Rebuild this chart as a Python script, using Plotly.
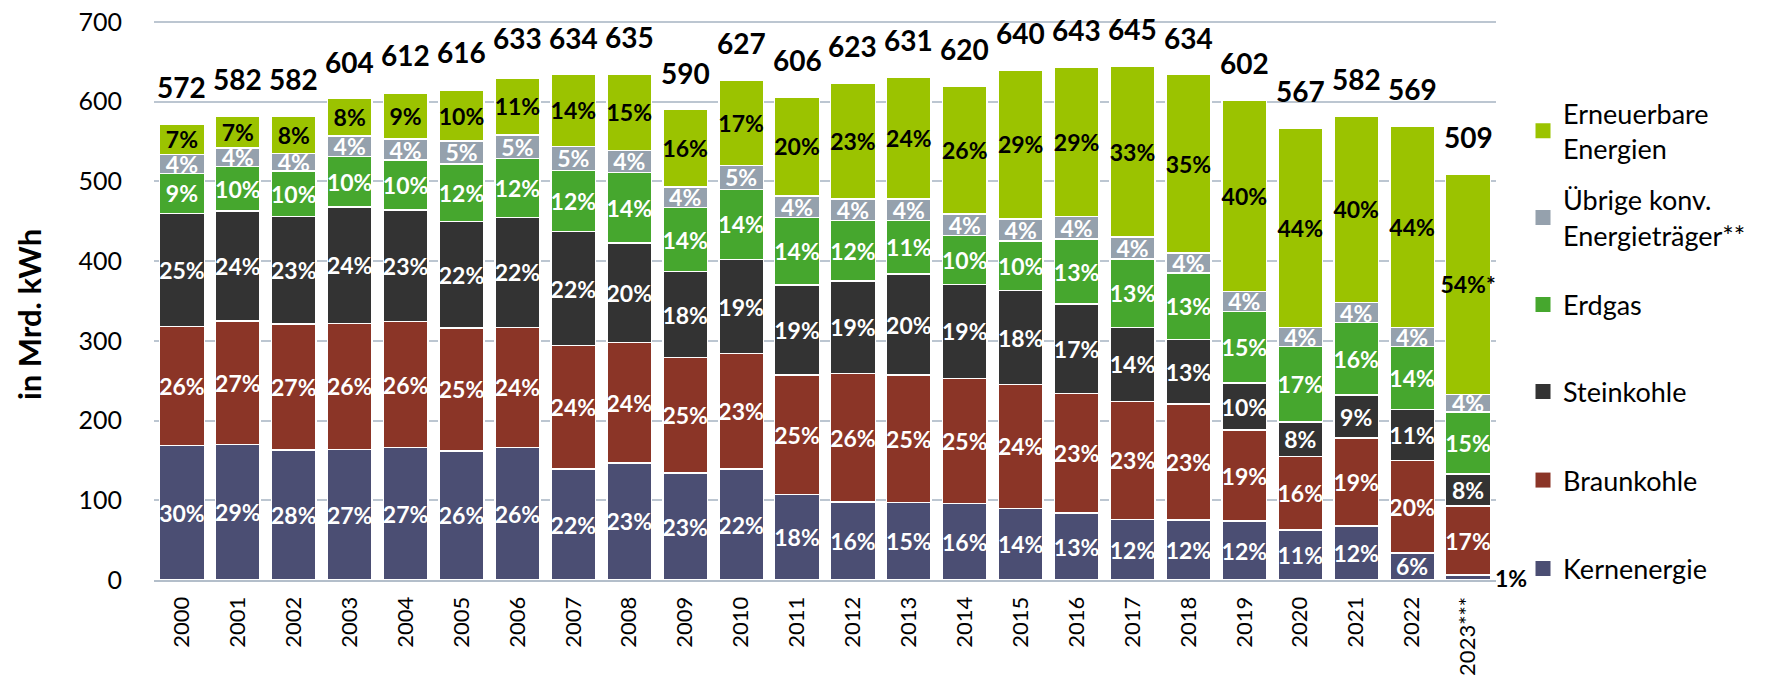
import plotly.graph_objects as go

years = ["2000", "2001", "2002", "2003", "2004", "2005", "2006", "2007", "2008", "2009",
         "2010", "2011", "2012", "2013", "2014", "2015", "2016", "2017", "2018", "2019",
         "2020", "2021", "2022", "2023***"]

kern = [169, 170, 163, 164, 166, 162, 166, 139, 147, 134, 139, 107, 98, 97, 96, 90, 84, 76, 75, 74, 63, 68, 34, 6]
braun = [149, 155, 158, 158, 158, 154, 151, 155, 151, 145, 145, 150, 161, 160, 157, 155, 150, 148, 146, 114, 92, 110, 116, 87]
stein = [142, 138, 135, 146, 140, 134, 138, 143, 125, 108, 118, 113, 116, 127, 118, 118, 112, 93, 81, 59, 43, 54, 64, 40]
erdgas = [50, 56, 57, 63, 63, 72, 74, 77, 88, 80, 88, 85, 76, 67, 61, 62, 82, 86, 83, 90, 95, 91, 79, 78]
uebrige = [24, 23, 22, 26, 26, 29, 29, 30, 28, 26, 30, 27, 27, 27, 27, 28, 28, 27, 25, 25, 24, 25, 24, 22]
ee = [38, 40, 47, 47, 58, 63, 72, 90, 96, 97, 107, 124, 145, 153, 161, 187, 187, 215, 224, 240, 250, 234, 252, 276]
totals = [572, 582, 582, 604, 612, 616, 633, 634, 635, 590, 627, 606, 623, 631, 620, 640, 643, 645, 634, 602, 567, 582, 569, 509]

kern_pct = ["30%", "29%", "28%", "27%", "27%", "26%", "26%", "22%", "23%", "23%", "22%", "18%", "16%", "15%", "16%", "14%", "13%", "12%", "12%", "12%", "11%", "12%", "6%", ""]
braun_pct = ["26%", "27%", "27%", "26%", "26%", "25%", "24%", "24%", "24%", "25%", "23%", "25%", "26%", "25%", "25%", "24%", "23%", "23%", "23%", "19%", "16%", "19%", "20%", "17%"]
stein_pct = ["25%", "24%", "23%", "24%", "23%", "22%", "22%", "22%", "20%", "18%", "19%", "19%", "19%", "20%", "19%", "18%", "17%", "14%", "13%", "10%", "8%", "9%", "11%", "8%"]
erdgas_pct = ["9%", "10%", "10%", "10%", "10%", "12%", "12%", "12%", "14%", "14%", "14%", "14%", "12%", "11%", "10%", "10%", "13%", "13%", "13%", "15%", "17%", "16%", "14%", "15%"]
uebrige_pct = ["4%", "4%", "4%", "4%", "4%", "5%", "5%", "5%", "4%", "4%", "5%", "4%", "4%", "4%", "4%", "4%", "4%", "4%", "4%", "4%", "4%", "4%", "4%", "4%"]
ee_pct = ["7%", "7%", "8%", "8%", "9%", "10%", "11%", "14%", "15%", "16%", "17%", "20%", "23%", "24%", "26%", "29%", "29%", "33%", "35%", "40%", "44%", "40%", "44%", "54%*"]
kern_outside_label = "1%"

series = [
    ("Kernenergie", kern, kern_pct, "#4B4E73", "white"),
    ("Braunkohle", braun, braun_pct, "#8B3527", "white"),
    ("Steinkohle", stein, stein_pct, "#333333", "white"),
    ("Erdgas", erdgas, erdgas_pct, "#46A72E", "white"),
    ("Übrige konv.<br>Energieträger**", uebrige, uebrige_pct, "#95A1AD", "white"),
    ("Erneuerbare<br>Energien", ee, ee_pct, "#9BC300", "black"),
]

FONT = "Lato"
fig = go.Figure()

for name, vals, labels, color, tcol in series:
    fig.add_trace(go.Bar(
        x=years, y=vals, name=name, showlegend=False,
        marker=dict(color=color, line=dict(color="white", width=1.5)),
        text=labels, textposition="inside", textangle=0,
        insidetextanchor="middle",
        insidetextfont=dict(family=FONT, size=23, color=tcol, weight="bold"),
    ))

# legend entries: one legend per item, placed in figure (container) coordinates
legend_y = {
    "Erneuerbare<br>Energien": 0.8210,
    "Übrige konv.<br>Energieträger**": 0.6950,
    "Erdgas": 0.5683,
    "Steinkohle": 0.4419,
    "Braunkohle": 0.3132,
    "Kernenergie": 0.1846,
}
legend_layout = {}
for i, (name, vals, labels, color, tcol) in enumerate(series):
    key = "legend" if i == 0 else f"legend{i + 1}"
    fig.add_trace(go.Scatter(
        x=[years[0]], y=[None], mode="markers", name=name,
        marker=dict(symbol="square", size=15, color=color),
        legend=key, showlegend=True, hoverinfo="skip",
    ))
    legend_layout[key] = dict(
        xref="container", yref="container",
        x=0.8608, xanchor="left", y=legend_y[name], yanchor="middle",
        font=dict(family=FONT, size=27, color="black"),
        bgcolor="rgba(0,0,0,0)", borderwidth=0, itemwidth=30,
    )

# totals above bars
for i, t in enumerate(totals):
    fig.add_annotation(
        x=i, y=t, text=str(t), showarrow=False, yanchor="bottom", yshift=18,
        font=dict(family=FONT, size=28, color="black", weight="bold"),
    )

# outside label for tiny 2023 nuclear segment
fig.add_annotation(
    x=len(years) - 1, y=kern[-1] / 2, text=kern_outside_label, showarrow=False,
    xanchor="left", yanchor="middle", xshift=25,
    font=dict(family=FONT, size=23, color="black", weight="bold"),
)

# y-axis title
fig.add_annotation(
    xref="paper", yref="paper", x=-0.0935, y=0.474, text="in Mrd. kWh",
    textangle=-90, showarrow=False, xanchor="center", yanchor="middle",
    font=dict(family=FONT, size=31, color="black", weight="bold"),
)

fig.update_layout(
    width=1760, height=688,
    margin=dict(l=146, r=272, t=12, b=116),
    barmode="stack", bargap=0.2,
    plot_bgcolor="white", paper_bgcolor="white",
    uniformtext=dict(minsize=23, mode="show"),
    font=dict(family=FONT, color="black"),
    **legend_layout,
)
fig.update_xaxes(
    type="category", categoryorder="array", categoryarray=years,
    range=[-0.5, len(years) - 0.5], automargin=False,
    tickangle=-90, tickfont=dict(family=FONT, size=22, color="black"),
    showline=True, linecolor="#B3BECA", linewidth=2, ticks="", showgrid=False,
    ticklabelstandoff=6, ticklabeloverflow="allow",
)
fig.update_yaxes(
    range=[0, 702.5], tickvals=[0, 100, 200, 300, 400, 500, 600, 700],
    showgrid=True, gridcolor="#BCC6D1", gridwidth=2,
    zeroline=False, showline=False, ticks="", automargin=False,
    tickfont=dict(family=FONT, size=25, color="black"),
    ticklabelstandoff=31, ticklabeloverflow="allow",
)

fig.write_html("out.html")
